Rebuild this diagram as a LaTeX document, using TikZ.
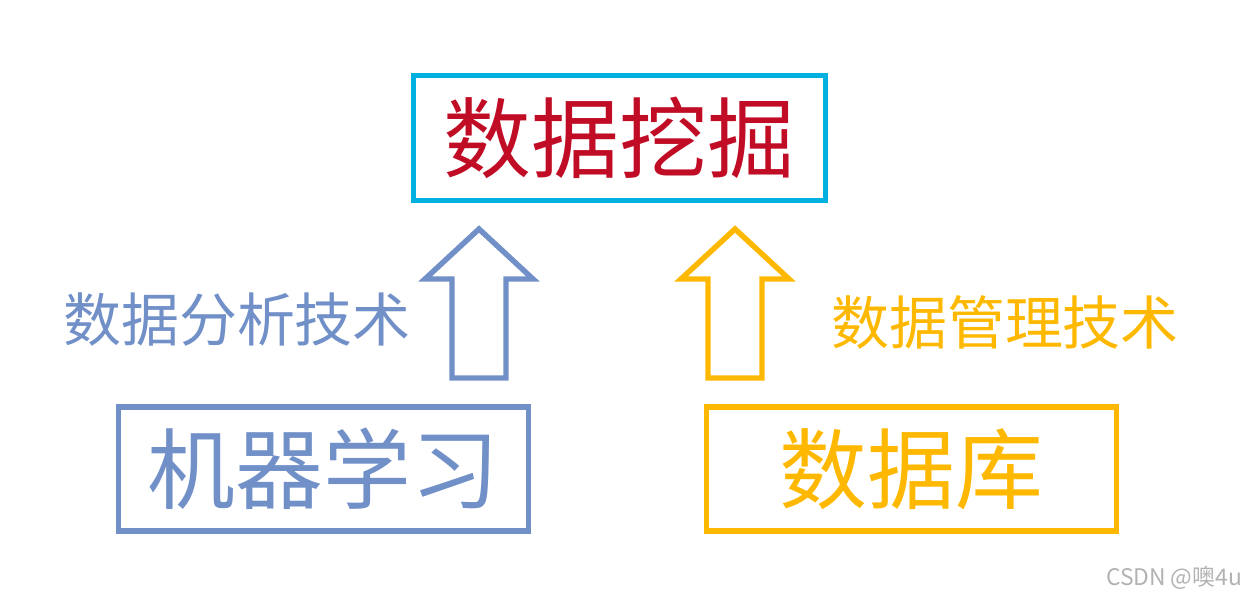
\documentclass[tikz,border=0pt]{standalone}
\usepackage{fontspec}
\newfontfamily\cjk{Noto Sans CJK SC}
\usetikzlibrary{positioning}
\definecolor{boxcyan}{RGB}{0,176,222}
\definecolor{minered}{RGB}{192,12,36}
\definecolor{mlblue}{RGB}{114,144,200}
\definecolor{dbyellow}{RGB}{255,184,0}
\tikzset{
  bigbox/.style={draw,line width=2.9pt,minimum width=8.2cm,minimum height=2.48cm,
    font=\cjk\fontsize{50}{50}\selectfont},
  techlabel/.style={font=\cjk\fontsize{33}{33}\selectfont},
  blockarrow/.style={line width=3.1pt,miter limit=10}
}

\begin{document}
\begin{tikzpicture}[x=0.02cm,y=-0.02cm]
    \useasboundingbox (0,0) rectangle (1246,599);
    % top: data mining
    \node[bigbox,draw=boxcyan,text=minered,minimum width=8.24cm,minimum height=2.5cm] (mining) at (619.5,138) {数据挖掘};
    % bottom boxes
    \node[bigbox,draw=mlblue,text=mlblue] (ml) at (323.5,469) {机器学习};
    \node[bigbox,draw=dbyellow,text=dbyellow] (db) at (911.5,469) {数据库};
    % hollow up arrows
    \foreach \cx/\col in {479/mlblue,735/dbyellow}{
      \draw[blockarrow,draw=\col] (\cx,229) -- (\cx+54,279) -- (\cx+27,279) -- (\cx+27,378)
        -- (\cx-27,378) -- (\cx-27,279) -- (\cx-54,279) -- cycle;
    }
    \node[techlabel,text=mlblue] (mltext) at (237,320) {数据分析技术};
    \node[techlabel,text=dbyellow] (dbtext) at (1005,322) {数据管理技术};
    \node[font=\cjk\fontsize{13}{13}\selectfont,text=black!30] (mark) at (1174,578) {CSDN @噢4u};
\end{tikzpicture}
\end{document}
